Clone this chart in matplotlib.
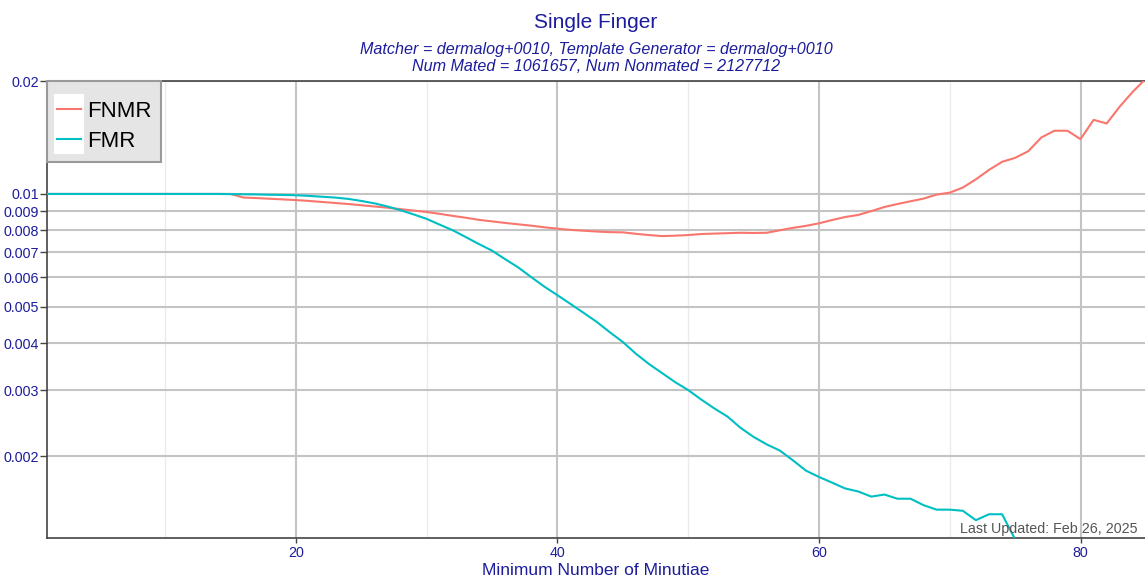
import matplotlib
matplotlib.use("Agg")
import matplotlib.pyplot as plt
from matplotlib.ticker import FixedLocator, NullFormatter, NullLocator
from matplotlib.patches import Rectangle
from matplotlib.lines import Line2D
from matplotlib.legend_handler import HandlerLine2D

plt.rcParams['font.family'] = ['Liberation Sans', 'DejaVu Sans']

min_minutiae = list(range(1, 86))

fnmr = [0.01] * 15 + [
    0.00978, 0.00975, 0.00971, 0.00967, 0.00963,   # 16-20
    0.00958, 0.00952, 0.00946, 0.00940, 0.00933,   # 21-25
    0.00926, 0.00919, 0.00911, 0.00903, 0.00895,   # 26-30
    0.00885, 0.00874, 0.00864, 0.00853, 0.00845,   # 31-35
    0.00837, 0.00830, 0.00823, 0.00815, 0.00808,   # 36-40
    0.00802, 0.00798, 0.00794, 0.00791, 0.00790,   # 41-45
    0.00783, 0.00777, 0.00772, 0.00774, 0.00777,   # 46-50
    0.00782, 0.00784, 0.00786, 0.00788, 0.00787,   # 51-55
    0.00788, 0.00800, 0.00812, 0.00822, 0.00835,   # 56-60
    0.00852, 0.00868, 0.00879, 0.00900, 0.00923,   # 61-65
    0.00940, 0.00956, 0.00972, 0.00996, 0.01008,   # 66-70
    0.01040, 0.01094, 0.01159, 0.01218, 0.01248,   # 71-75
    0.01300, 0.01414, 0.01474, 0.01474, 0.01400,   # 76-80
    0.01576, 0.01541, 0.01710, 0.01873, 0.02030,   # 81-85
]

fmr = [0.01] * 14 + [
    0.00999,                                       # 15
    0.00998, 0.00997, 0.00995, 0.00994, 0.00992,   # 16-20
    0.00988, 0.00983, 0.00978, 0.00970, 0.00958,   # 21-25
    0.00944, 0.00926, 0.00905, 0.00882, 0.00858,   # 26-30
    0.00828, 0.00800, 0.00767, 0.00735, 0.00706,   # 31-35
    0.00670, 0.00637, 0.00600, 0.00566, 0.00537,   # 36-40
    0.00509, 0.00482, 0.00456, 0.00428, 0.00403,   # 41-45
    0.00375, 0.00352, 0.00333, 0.00315, 0.00300,   # 46-50
    0.00283, 0.00268, 0.00255, 0.00238, 0.00225,   # 51-55
    0.00215, 0.00207, 0.00195, 0.00183, 0.00176,   # 56-60
    0.00170, 0.00164, 0.00161, 0.00156, 0.00158,   # 61-65
    0.00154, 0.00154, 0.00148, 0.00144, 0.00144,   # 66-70
    0.00143, 0.00135, 0.00140, 0.00140, 0.00120,   # 71-75
]

y_ticks = [0.002, 0.003, 0.004, 0.005, 0.006, 0.007, 0.008, 0.009, 0.01, 0.02]
y_tick_labels = ["0.002", "0.003", "0.004", "0.005", "0.006", "0.007",
                 "0.008", "0.009", "0.01", "0.02"]
x_ticks = [20, 40, 60, 80]
x_minor = [10, 30, 50, 70]

title = "Single Finger"
subtitle_1 = "Matcher = dermalog+0010, Template Generator = dermalog+0010"
subtitle_2 = "Num Mated = 1061657, Num Nonmated = 2127712"
xlabel = "Minimum Number of Minutiae"
updated = "Last Updated: Feb 26, 2025"

navy = "#1c1c9c"
c_fnmr = "#F8766D"
c_fmr = "#00BFC4"


class HandlerWhiteBox(HandlerLine2D):
    """Legend line drawn on a white swatch (as in the reference)."""
    def create_artists(self, legend, orig_handle, xdescent, ydescent,
                       width, height, fontsize, trans):
        arts = super().create_artists(legend, orig_handle, xdescent, ydescent,
                                      width, height, fontsize, trans)
        padx = 2.2
        extra = 5.3
        rect = Rectangle((-xdescent - padx, -ydescent - extra),
                         width + 2 * padx, height + 2 * extra,
                         facecolor="white", edgecolor="none", transform=trans)
        return [rect] + list(arts)


fig = plt.figure(figsize=(11.45, 5.8), dpi=100)
ax = fig.add_axes([0.041, 0.0724, 0.959, 0.7879])

ax.set_yscale("log")
ax.set_xlim(0.96, 84.93)
ax.set_ylim(0.00121, 0.02)

# grid
for xv in x_minor:
    ax.axvline(xv, color="#ebebeb", lw=1.0, zorder=0)
for xv in x_ticks:
    ax.axvline(xv, color="#c4c4c4", lw=1.5, zorder=0)
for yv in y_ticks:
    ax.axhline(yv, color="#c4c4c4", lw=1.5, zorder=0)

l1, = ax.plot(min_minutiae, fnmr, color=c_fnmr, lw=1.5, label="FNMR", zorder=3)
l2, = ax.plot(min_minutiae[:len(fmr)], fmr, color=c_fmr, lw=1.5, label="FMR", zorder=3)

ax.yaxis.set_major_locator(FixedLocator(y_ticks))
ax.set_yticklabels(y_tick_labels)
ax.yaxis.set_minor_locator(NullLocator())
ax.yaxis.set_minor_formatter(NullFormatter())
ax.set_xticks(x_ticks)
ax.set_xticklabels([str(v) for v in x_ticks])

ax.tick_params(axis="y", which="major", direction="out", length=5, width=1,
               color="#444444", labelcolor=navy, labelsize=10.3, pad=0.5)
ax.tick_params(axis="x", which="major", direction="out", length=3.5, width=1,
               color="#444444", labelcolor=navy, labelsize=10.3, pad=2.5)

for s in ["left", "bottom", "top"]:
    ax.spines[s].set_color("#444444")
    ax.spines[s].set_linewidth(1.2)
ax.spines["right"].set_visible(False)

ax.set_xlabel(xlabel, color=navy, fontsize=12.5, labelpad=2)

fig.text(0.5205, 0.962, title, ha="center", va="center", color=navy, fontsize=15)
fig.text(0.5205, 0.9155, subtitle_1, ha="center", va="center", color=navy,
         fontsize=11.6, style="italic")
fig.text(0.5205, 0.886, subtitle_2, ha="center", va="center", color=navy,
         fontsize=11.6, style="italic")

ax.text(0.993, 0.004, updated, transform=ax.transAxes, ha="right", va="bottom",
        color="#555555", fontsize=10.3, zorder=5)

leg = ax.legend(handles=[l1, l2], loc="upper left", bbox_to_anchor=(0.0, 1.0),
                fontsize=16, frameon=True, fancybox=False, borderaxespad=0.0,
                handlelength=1.05, handletextpad=0.28, borderpad=0.46,
                labelspacing=0.39, title=" ", title_fontsize=1,
                handler_map={Line2D: HandlerWhiteBox()})
frame = leg.get_frame()
frame.set_facecolor("#e5e5e5")
frame.set_edgecolor("#9a9a9a")
frame.set_linewidth(1.5)
frame.set_alpha(1.0)

fig.savefig("out.png", dpi=100)
